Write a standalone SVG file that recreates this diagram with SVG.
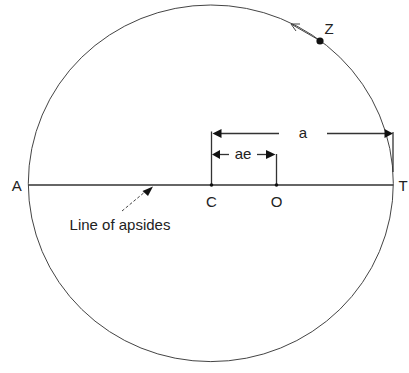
<svg xmlns="http://www.w3.org/2000/svg" width="409" height="373" viewBox="0 0 409 373">
<defs>
<style>
text{font-family:"Liberation Sans",Arial,sans-serif;font-size:15px;fill:#222}
.ln{stroke:#333;fill:none;stroke-width:1.3}
.thin{stroke:#444;fill:none;stroke-width:1}
.head{fill:#111;stroke:none}
</style>
</defs>
<rect width="409" height="373" fill="#fff"/>
<g id="orbit">
<ellipse cx="210.8" cy="183.3" rx="182.5" ry="178.3" class="thin"/>
</g>
<g id="connectors">
<line x1="28.5" y1="185" x2="393.3" y2="185" class="ln" stroke-width="1.8"/>
<line x1="211.5" y1="131.5" x2="211.5" y2="185" class="ln"/>
<line x1="276.5" y1="154" x2="276.5" y2="185" class="ln"/>
<line x1="393" y1="132" x2="393" y2="172" class="ln" stroke-width="1.6"/>
<line x1="220" y1="133.5" x2="279" y2="133.5" class="ln"/>
<line x1="327" y1="133.5" x2="386" y2="133.5" class="ln"/>
<polygon class="head" points="212.5,133.5 221.5,129 221.5,138"/>
<polygon class="head" points="393,133.5 384.5,129 384.5,138"/>
<line x1="218" y1="154.5" x2="229" y2="154.5" class="ln"/>
<line x1="257" y1="154.5" x2="266" y2="154.5" class="ln"/>
<polygon class="head" points="212,154.5 220,150 220,159"/>
<polygon class="head" points="275.5,154.5 266,150 266,159"/>
<line x1="122" y1="211" x2="146" y2="191" class="thin" stroke-dasharray="3,2"/>
<polygon class="head" points="153,186.5 142.5,191 148,196"/>
<line x1="318" y1="39.5" x2="291" y2="24" class="thin"/>
<polyline points="300,24 291,24 296,31" class="thin"/>
</g>
<g id="C"><circle cx="211.5" cy="185" r="1.8" fill="#111"/><text x="211.5" y="206.5" text-anchor="middle">C</text></g>
<g id="O"><circle cx="276.5" cy="185" r="1.8" fill="#111"/><text x="276.5" y="206.5" text-anchor="middle">O</text></g>
<g id="A"><text x="16.7" y="190.5" text-anchor="middle">A</text></g>
<g id="T"><text x="403" y="191" text-anchor="middle">T</text></g>
<g id="Z"><circle cx="320" cy="41" r="3.6" fill="#111"/><text x="329" y="33.5" text-anchor="middle">Z</text></g>
<g id="a-label"><text x="303" y="137.5" text-anchor="middle">a</text></g>
<g id="ae-label"><text x="243" y="158.5" text-anchor="middle">ae</text></g>
<g id="apsides-label"><text x="120" y="230" text-anchor="middle">Line of apsides</text></g>
</svg>
